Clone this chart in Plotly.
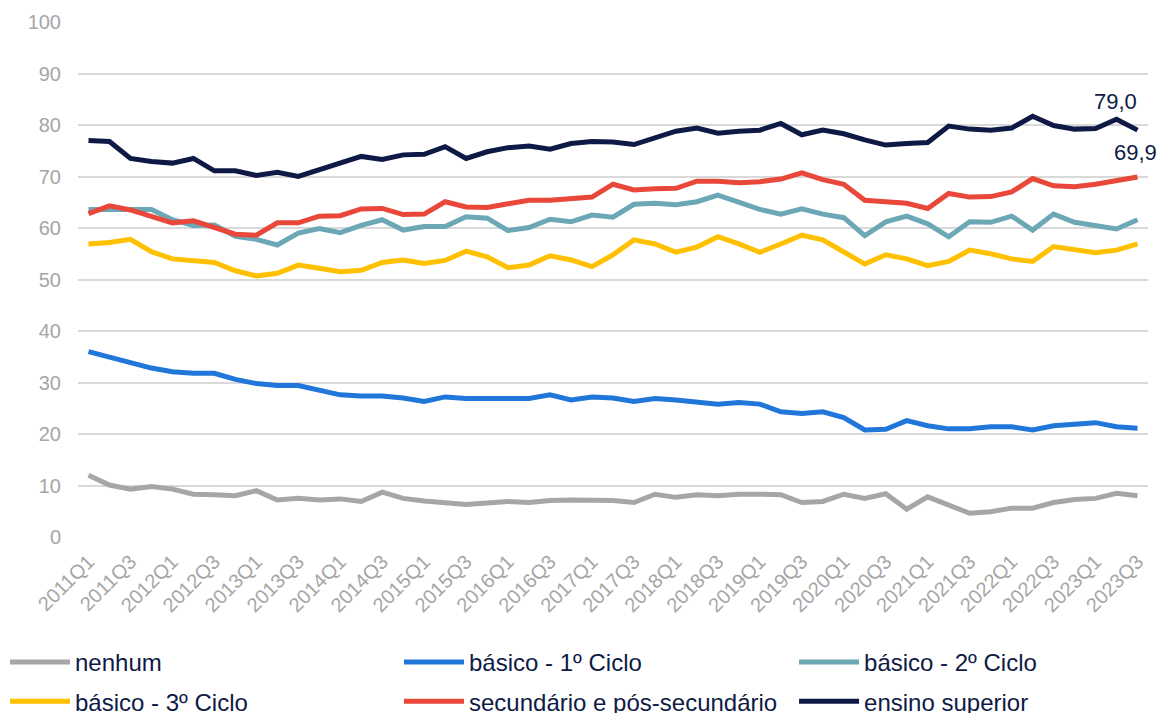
import plotly.graph_objects as go

quarters = ["2011Q1","2011Q2","2011Q3","2011Q4","2012Q1","2012Q2","2012Q3","2012Q4",
            "2013Q1","2013Q2","2013Q3","2013Q4","2014Q1","2014Q2","2014Q3","2014Q4",
            "2015Q1","2015Q2","2015Q3","2015Q4","2016Q1","2016Q2","2016Q3","2016Q4",
            "2017Q1","2017Q2","2017Q3","2017Q4","2018Q1","2018Q2","2018Q3","2018Q4",
            "2019Q1","2019Q2","2019Q3","2019Q4","2020Q1","2020Q2","2020Q3","2020Q4",
            "2021Q1","2021Q2","2021Q3","2021Q4","2022Q1","2022Q2","2022Q3","2022Q4",
            "2023Q1","2023Q2","2023Q3"]

nenhum = [12.0,10.1,9.3,9.8,9.3,8.3,8.2,8.0,9.0,7.2,7.5,7.2,7.4,6.9,8.7,7.5,
          7.0,6.7,6.3,6.6,6.9,6.7,7.1,7.2,7.2,7.1,6.7,8.3,7.7,8.2,8.0,8.3,
          8.3,8.2,6.7,6.9,8.3,7.5,8.4,5.4,7.8,6.1,4.6,4.9,5.6,5.6,6.7,7.3,
          7.5,8.5,8.0]
ciclo1 = [36.0,34.9,33.9,32.8,32.1,31.8,31.8,30.6,29.8,29.4,29.4,28.4,27.6,27.4,27.4,27.0,
          26.3,27.2,26.9,26.9,26.9,26.9,27.6,26.6,27.2,27.0,26.3,26.9,26.6,26.1,25.8,26.1,
          25.8,24.3,24.0,24.3,23.2,20.8,20.9,22.6,21.6,21.0,21.0,21.4,21.4,20.8,21.6,21.9,
          22.2,21.4,21.1]
ciclo2 = [63.6,63.6,63.6,63.6,61.6,60.5,60.6,58.4,57.8,56.7,59.0,59.9,59.1,60.5,61.6,59.6,
          60.3,60.3,62.2,61.9,59.5,60.1,61.7,61.2,62.5,62.1,64.6,64.8,64.5,65.1,66.4,65.1,
          63.6,62.7,63.7,62.7,62.0,58.5,61.2,62.3,60.8,58.3,61.2,61.1,62.3,59.6,62.7,61.1,
          60.5,59.8,61.6]
ciclo3 = [56.9,57.2,57.8,55.4,54.0,53.6,53.3,51.7,50.7,51.2,52.8,52.2,51.5,51.8,53.3,53.8,
          53.1,53.7,55.5,54.4,52.3,52.8,54.6,53.8,52.5,54.8,57.7,56.9,55.3,56.3,58.3,56.9,
          55.3,56.9,58.6,57.7,55.4,53.0,54.8,54.0,52.7,53.5,55.7,55.0,54.0,53.5,56.4,55.7,
          55.2,55.7,56.9]
secundario = [62.8,64.3,63.5,62.2,61.0,61.4,60.1,58.8,58.6,61.0,61.0,62.3,62.4,63.7,63.8,62.6,
              62.7,65.1,64.1,64.0,64.7,65.4,65.4,65.7,66.0,68.5,67.4,67.6,67.7,69.1,69.1,68.8,
              69.0,69.5,70.7,69.4,68.5,65.4,65.1,64.8,63.8,66.7,66.0,66.1,67.0,69.6,68.2,68.0,
              68.5,69.2,69.9]
superior = [77.0,76.8,73.5,72.9,72.6,73.5,71.1,71.1,70.2,70.8,70.0,71.3,72.6,73.9,73.3,74.2,
            74.3,75.8,73.5,74.8,75.6,75.9,75.3,76.4,76.8,76.7,76.2,77.6,78.8,79.4,78.4,78.8,
            79.0,80.3,78.1,79.0,78.3,77.1,76.1,76.4,76.6,79.8,79.2,79.0,79.4,81.7,79.9,79.2,
            79.3,81.1,79.0]

names = ["nenhum", "básico - 1º Ciclo", "básico - 2º Ciclo",
         "básico - 3º Ciclo", "secundário e pós-secundário", "ensino superior"]
series = [nenhum, ciclo1, ciclo2, ciclo3, secundario, superior]
colors = ["#a6a6a6", "#2176d9", "#6ba7b4", "#ffc000", "#e8473a", "#0e1a45"]
legends = ["legend", "legend2", "legend3", "legend", "legend2", "legend3"]

fig = go.Figure()
for n, s, c, lg in zip(names, series, colors, legends):
    fig.add_trace(go.Scatter(x=quarters, y=s, name=n, mode="lines",
                             line=dict(color=c, width=5), legend=lg, legendgroup=n))

fig.add_annotation(x=quarters[-1], y=superior[-1], text="79,0",
                   showarrow=False, xanchor="center", yanchor="bottom",
                   xshift=-22, yshift=14, font=dict(size=22, color="#0e1a45"))
fig.add_annotation(x=quarters[-1], y=secundario[-1], text="69,9",
                   showarrow=False, xanchor="center", yanchor="bottom",
                   xshift=-2, yshift=10, font=dict(size=22, color="#0e1a45"))

legend_common = dict(orientation="v", xanchor="left", yanchor="top",
                     y=-0.2, itemwidth=60, tracegroupgap=5,
                     font=dict(family="Liberation Sans, Arial", size=24, color="#0e1a45"),
                     bgcolor="rgba(0,0,0,0)")

fig.update_layout(
    width=1173, height=713,
    margin=dict(l=78, r=25, t=22, b=176, autoexpand=False),
    paper_bgcolor="white", plot_bgcolor="white",
    font=dict(family="Liberation Sans, Arial", color="#a6a6a6"),
    legend=dict(x=-0.0682, **legend_common),
    legend2=dict(x=0.3, **legend_common),
    legend3=dict(x=0.6692, **legend_common),
    xaxis=dict(type="category", range=[-0.5, 50.5], tickangle=-45,
               tickvals=quarters[::2], ticktext=quarters[::2],
               showgrid=False, showline=False, ticks="", automargin=False,
               ticklabelstandoff=8,
               tickfont=dict(size=20, color="#a6a6a6")),
    yaxis=dict(range=[0, 100], dtick=10, showgrid=True, gridcolor="#d9d9d9",
               gridwidth=1.5, zeroline=False, showline=False, ticks="", automargin=False,
               ticklabelstandoff=16,
               tickfont=dict(size=20, color="#a6a6a6")),
)

fig.write_html("out.html", config={"displayModeBar": False},
               post_script="document.body.style.margin='0';document.body.style.overflow='hidden';")
